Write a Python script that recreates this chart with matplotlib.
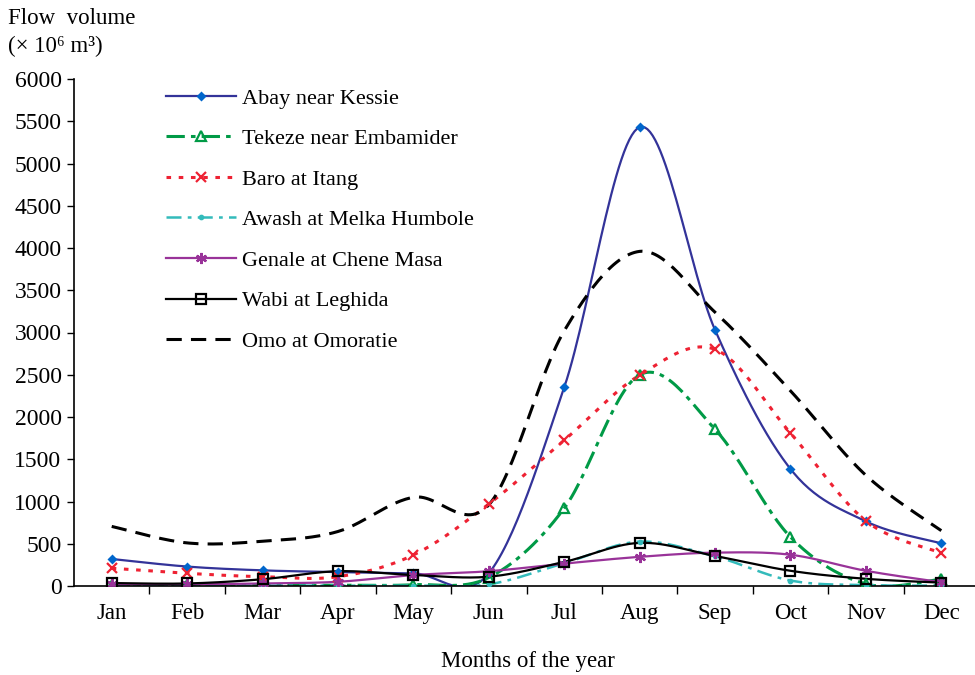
import numpy as np
import matplotlib
matplotlib.use("Agg")
import matplotlib.pyplot as plt
from matplotlib.lines import Line2D

plt.rcParams['font.family'] = ['Liberation Serif', 'DejaVu Serif']

months = ['Jan', 'Feb', 'Mar', 'Apr', 'May', 'Jun', 'Jul', 'Aug', 'Sep', 'Oct', 'Nov', 'Dec']

# monthly flow volume (x 10^6 m3)
abay = [320, 230, 185, 165, 150, 150, 2350, 5430, 3030, 1385, 765, 505]
tekeze = [10, 10, 10, 10, 15, 100, 920, 2500, 1855, 580, 25, 80]
baro = [210, 150, 110, 110, 367, 970, 1725, 2495, 2800, 1810, 770, 390]
awash = [5, 5, 5, 5, 5, 20, 270, 525, 350, 65, 10, 5]
genale = [20, 20, 30, 50, 130, 175, 265, 345, 395, 370, 180, 45]
wabi = [35, 30, 80, 175, 130, 110, 285, 510, 355, 180, 85, 40]
omo = [705, 510, 530, 645, 1050, 960, 3020, 3960, 3240, 2310, 1310, 655]


def smooth(y, n=30):
    # catmull-rom style smoothing like the excel "smoothed line"
    y = np.asarray(y, dtype=float)
    x = np.arange(len(y), dtype=float)
    xs, ys = [], []
    for i in range(len(y) - 1):
        p0 = y[i - 1] if i > 0 else y[i]
        p1, p2 = y[i], y[i + 1]
        p3 = y[i + 2] if i + 2 < len(y) else y[i + 1]
        c1 = p1 + (p2 - p0) / 6
        c2 = p2 - (p3 - p1) / 6
        x0 = x[i]
        x1 = x[i + 1]
        xc1 = x0 + (x1 - (x[i - 1] if i > 0 else x0)) / 6
        xc2 = x1 - ((x[i + 2] if i + 2 < len(y) else x1) - x0) / 6
        t = np.linspace(0, 1, n)
        b = [(1 - t) ** 3, 3 * (1 - t) ** 2 * t, 3 * (1 - t) * t ** 2, t ** 3]
        xs.append(b[0] * x0 + b[1] * xc1 + b[2] * xc2 + b[3] * x1)
        ys.append(b[0] * p1 + b[1] * c1 + b[2] * c2 + b[3] * p2)
    return np.concatenate(xs), np.concatenate(ys)


series = [
    # label, data, line color, linestyle, lw, marker, marker face, marker edge, ms
    ('Abay near Kessie', abay, '#333399', '-', 1.6, 'D', '#0066cc', '#0066cc', 3.5),
    ('Tekeze near Embamider', tekeze, '#009a46', (0, (6, 2, 1.5, 2)), 2.2, '^', 'none', '#009a46', 7),
    ('Baro at Itang', baro, '#ee2233', (0, (1.5, 2.5)), 2.2, 'x', '#ee2233', '#ee2233', 7),
    ('Awash at Melka Humbole', awash, '#33bbbb', (0, (6, 2.5, 1.5, 2.5)), 1.8, 'o', '#33bbbb', '#33bbbb', 2.5),
    ('Genale at Chene Masa', genale, '#993399', '-', 1.6, (6, 2, 0), '#993399', '#993399', 8),
    ('Wabi at Leghida', wabi, 'black', '-', 1.6, 's', 'none', 'black', 7),
    ('Omo at Omoratie', omo, 'black', (0, (5, 3)), 2.2, None, 'none', 'black', 0),
]

fig = plt.figure(figsize=(9.75, 6.75), dpi=100)
ax = fig.add_axes([74 / 975, 1 - 586 / 675, 905 / 975, 507 / 675])

handles = []
x = np.arange(len(months))
for label, data, col, ls, lw, mk, mfc, mec, ms in series:
    xs, ys = smooth(data)
    ax.plot(xs, ys, color=col, linestyle=ls, linewidth=lw, zorder=2)
    if mk is not None:
        ax.plot(x, data, linestyle='none', marker=mk, markersize=ms,
                markerfacecolor=mfc, markeredgecolor=mec, markeredgewidth=1.6, zorder=3)
    handles.append(Line2D([], [], color=col, linestyle=ls, linewidth=lw, marker=mk,
                          markersize=ms, markerfacecolor=mfc, markeredgecolor=mec,
                          markeredgewidth=1.6, label=label))

ax.set_xlim(-0.5, 11.5)
ax.set_ylim(0, 6000)
ax.set_yticks(range(0, 6001, 500))
ax.set_xticks(x, months)
ax.set_xticks(np.arange(0.5, 11, 1), minor=True)
ax.tick_params(axis='x', which='major', length=0, pad=12, labelsize=16.5)
ax.tick_params(axis='x', which='minor', length=6, direction='out', width=1)
ax.tick_params(axis='y', length=5, direction='out', width=1, labelsize=17, pad=4)
for s in ['top', 'right']:
    ax.spines[s].set_visible(False)
for s in ['left', 'bottom']:
    ax.spines[s].set_linewidth(1.2)

fig.text(8 / 975, 1 - 18 / 675, 'Flow  volume', fontsize=16.5, va='center', ha='left')
fig.text(8 / 975, 1 - 46 / 675, '(× 10⁶ m³)', fontsize=16.5, va='center', ha='left')
fig.text(528 / 975, 1 - 661 / 675, 'Months of the year', fontsize=16.5, va='center', ha='center')

fig.legend(handles=handles, loc='upper left', bbox_to_anchor=(166 / 975, 1 - 88 / 675),
           frameon=False, fontsize=16, handlelength=3.15, handletextpad=0.25,
           labelspacing=0.9, borderpad=0, borderaxespad=0)

fig.savefig('out.png', dpi=100)
